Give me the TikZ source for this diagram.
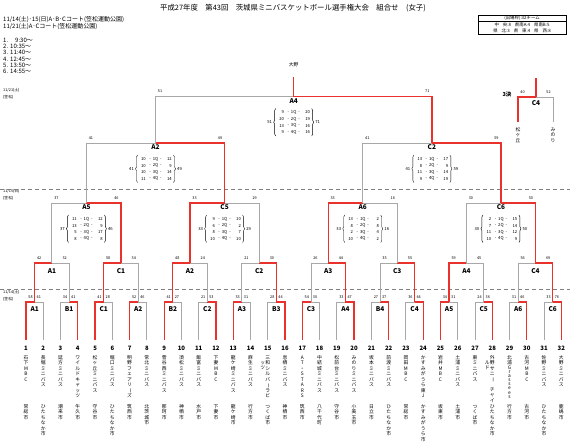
\documentclass[tikz,border=0pt]{standalone}
\usepackage{fontspec}
\setmainfont{Noto Sans CJK JP}
\usetikzlibrary{decorations.pathreplacing,calc}
\definecolor{wred}{HTML}{E8322B}
\definecolor{lgray}{HTML}{A8A8A8}
\def\vtloop#1{\ifx\relax#1\else\hbox to 6pt{\hss\raisebox{0pt}[4.2pt][1.3pt]{#1}\hss}\expandafter\vtloop\fi}
\newcommand\vtext[1]{\vbox{\offinterlineskip\expandafter\vtloop#1\relax}}
\def\vtloopS#1{\ifx\relax#1\else\hbox to 6pt{\hss\raisebox{0pt}[3.2pt][0.9pt]{#1}\hss}\expandafter\vtloopS\fi}
\newcommand\vtextS[1]{\vbox{\offinterlineskip\expandafter\vtloopS#1\relax}}
\newcommand\vbar{\rotatebox[origin=c]{-90}{ー}}
\newcommand\qbox[4]{%
  \foreach \l/\r [count=\i] in {#4}{%
    \node[qs,anchor=east] at ($(#1)+(-9.5,{16+(\i-1)*6.6})$) {\l};
    \node[qs] at ($(#1)+(0,{16+(\i-1)*6.6})$) {-\hspace{2pt}\i Q\hspace{2pt}-};
    \node[qs,anchor=east] at ($(#1)+(16.5,{16+(\i-1)*6.6})$) {\r};
  }
  \draw[decorate,decoration={brace,amplitude=2pt},line width=0.4pt] ($(#1)+(-18,39.5)$) -- ($(#1)+(-18,12)$);
  \draw[decorate,decoration={brace,amplitude=2pt},line width=0.4pt] ($(#1)+(18,12)$) -- ($(#1)+(18,39.5)$);
  \node[qs] at ($(#1)+(-24,25.9)$) {#2};
  \node[qs] at ($(#1)+(24,25.9)$) {#3};
}
\begin{document}
\begin{tikzpicture}[x=1pt,y=-1pt,
 gl/.style={draw=lgray,line width=0.9pt},
 rl/.style={draw=wred,line width=1.3pt},
 sc/.style={font=\fontsize{3.8}{4}\selectfont,inner sep=0},
 qs/.style={font=\fontsize{4.2}{5}\selectfont,inner sep=0},
 lab/.style={font=\bfseries\fontsize{6.5}{7}\selectfont,inner sep=0},
 num/.style={font=\bfseries\fontsize{6}{7}\selectfont,inner sep=0},
 tn/.style={font=\fontsize{4.8}{5}\selectfont,inner sep=0,anchor=north},
 txt/.style={inner sep=0,anchor=west,font=\fontsize{6}{6}\selectfont},
 dsh/.style={draw=gray,line width=0.7pt,dash pattern=on 4pt off 3pt}]
\useasboundingbox (0,0) rectangle (570,442);
\fill[white] (0,0) rectangle (570,442);
% header
\node[inner sep=0,font=\fontsize{7.4}{8}\selectfont] (title) at (293,8) {平成27年度　第43回　茨城県ミニバスケットボール選手権大会　組合せ　(女子)};
\node[txt] (h1) at (3,20) {11/14(土)･15(日)A･B･Cコート(笠松運動公園)};
\node[txt] (h2) at (3,26.5) {11/21(土)A･Cコート(笠松運動公園)};
\foreach \t [count=\i] in {1.\hspace{7pt}9:30～,2.\hspace{2pt}10:35～,3.\hspace{2pt}11:40～,4.\hspace{2pt}12:45～,5.\hspace{2pt}13:50～,6.\hspace{2pt}14:55～}
  \node[txt] (tm\i) at (3,{40+(\i-1)*6.35}) {\t};
\node[txt,font=\fontsize{3.8}{4}\selectfont] (d1) at (3,90.5) {11/21(土)};
\node[txt,font=\fontsize{3.8}{4}\selectfont] (d1b) at (3,97) {(笠松)};
\node[txt,font=\fontsize{3.8}{4}\selectfont] (d2) at (3,191.5) {11/15(日)};
\node[txt,font=\fontsize{3.8}{4}\selectfont] (d2b) at (3,198) {(笠松)};
\node[txt,font=\fontsize{3.8}{4}\selectfont] (d3) at (3,292.5) {11/14(土)};
\node[txt,font=\fontsize{3.8}{4}\selectfont] (d3b) at (3,299) {(笠松)};
% quota box
\draw[line width=0.5pt] (478,15) rectangle (566,34);
\draw[line width=0.4pt] (478,21) -- (566,21);
\node[inner sep=0,font=\fontsize{4.4}{5}\selectfont] (qb1) at (522,18) {(出場枠):32チーム};
\node[inner sep=0,font=\fontsize{4.4}{5}\selectfont] (qb2) at (522,24.5) {中\hspace{4pt}央:8\hspace{4pt}県南A:4\hspace{4pt}県南B:5};
\node[inner sep=0,font=\fontsize{4.4}{5}\selectfont] (qb3) at (522,30.5) {県\hspace{4pt}北:3\hspace{4pt}県\hspace{4pt}東:4\hspace{4pt}県\hspace{4pt}西:8};
% separators
\draw[dsh] (0,189) -- (570,189);
\draw[dsh] (0,289) -- (570,289);
% coordinates
\foreach \k in {1,...,32} \coordinate (t\k) at ({26+(\k-1)*17.27},340);
\foreach \j in {1,...,16} \coordinate (m\j) at ({26+(2*\j-1.5)*17.27},302);
\foreach \j in {1,...,8} \coordinate (r\j) at ({26+(4*\j-2.5)*17.27},263);
\foreach \j in {1,...,4} \coordinate (q\j) at ({26+(8*\j-4.5)*17.27},203);
\foreach \j in {1,2} \coordinate (s\j) at ({26+(16*\j-8.5)*17.27},143);
\coordinate (f) at ({26+15.5*17.27},96.5);
\coordinate (champ) at ({26+15.5*17.27},77);
% round 1
\foreach \j/\lab/\ls/\rs [evaluate=\j as \a using int(2*\j-1), evaluate=\j as \b using int(2*\j)] in
 {1/A1/58/41,2/B1/34/41,3/C1/41/28,4/A2/52/46,5/B2/41/27,6/C2/21/53,7/A3/33/31,8/B3/28/44,
  9/C3/54/30,10/A4/33/47,11/B4/27/37,12/C4/36/44,13/A5/34/31,14/C5/24/36,15/A6/31/46,16/C6/33/76}{
  \draw[gl] (t\a) |- (m\j) (t\b) |- (m\j);
  \node[sc] at ($(t\a |- m\j)+(4.5,-5)$) {\ls};
  \node[sc] at ($(t\b |- m\j)+(-4.5,-5)$) {\rs};
  \node[lab] at ($(m\j)+(0,7.5)$) {\lab};
}
\foreach \w/\m in {1/1,4/2,5/3,7/4,9/5,12/6,13/7,16/8,17/9,20/10,22/11,24/12,25/13,28/14,30/15,32/16}
  \draw[rl] (t\w) |- (m\m);
% round 2
\foreach \j/\lab/\ls/\rs [evaluate=\j as \a using int(2*\j-1), evaluate=\j as \b using int(2*\j)] in
 {1/A1/42/32,2/C1/58/34,3/A2/48/24,4/C2/21/30,5/A3/26/44,6/C3/35/55,7/A4/59/45,8/C4/56/69}{
  \draw[gl] (m\a) |- (r\j) (m\b) |- (r\j);
  \node[sc] at ($(m\a |- r\j)+(4.5,-5)$) {\ls};
  \node[sc] at ($(m\b |- r\j)+(-4.5,-5)$) {\rs};
  \node[lab] at ($(r\j)+(0,8.5)$) {\lab};
}
\foreach \w/\m in {1/1,3/2,5/3,8/4,10/5,12/6,13/7,16/8}
  \draw[rl] (m\w) |- (r\m);
% round 3
\foreach \j/\lab/\ls/\rs [evaluate=\j as \a using int(2*\j-1), evaluate=\j as \b using int(2*\j)] in
 {1/A5/37/46,2/C5/33/29,3/A6/33/16,4/C6/30/50}{
  \draw[gl] (r\a) |- (q\j) (r\b) |- (q\j);
  \node[sc] at ($(r\a |- q\j)+(4.5,-5)$) {\ls};
  \node[sc] at ($(r\b |- q\j)+(-4.5,-5)$) {\rs};
  \node[lab] at ($(q\j)+(0,4.5)$) {\lab};
}
\foreach \w/\m in {2/1,3/2,5/3,8/4}
  \draw[rl] (r\w) |- (q\m);
% semis
\foreach \j/\lab/\ls/\rs [evaluate=\j as \a using int(2*\j-1), evaluate=\j as \b using int(2*\j)] in
 {1/A2/41/49,2/C2/41/59}{
  \draw[gl] (q\a) |- (s\j) (q\b) |- (s\j);
  \node[sc] at ($(q\a |- s\j)+(4.5,-5)$) {\ls};
  \node[sc] at ($(q\b |- s\j)+(-4.5,-5)$) {\rs};
  \node[lab] at ($(s\j)+(0,4)$) {\lab};
}
\draw[rl] (q2) |- (s1);
\draw[rl] (q4) |- (s2);
% final
\draw[gl] (s1) |- (f);
\draw[rl] (s2) |- (f);
\draw[rl] (f) -- (champ);
\node[sc] at ($(s1 |- f)+(4.5,-5)$) {51};
\node[sc] at ($(s2 |- f)+(-4.5,-5)$) {71};
\node[lab] at ($(f)+(0,5)$) {A4};
\node[inner sep=0,font=\fontsize{4.8}{5}\selectfont] (champname) at ($(champ)+(0,-12)$) {大野};
% quarter boxes
\qbox{f}{51}{71}{9/20,20/19,13/16,9/16}
\qbox{s1}{41}{49}{10/12,10/9,10/14,11/14}
\qbox{s2}{41}{59}{13/17,8/9,11/14,9/19}
\qbox{q1}{37}{46}{11/12,13/9,5/17,8/8}
\qbox{q2}{33}{29}{9/10,6/2,8/7,10/10}
\qbox{q3}{33}{16}{13/2,8/8,2/4,10/2}
\qbox{q4}{30}{50}{2/15,7/14,11/12,10/9}
% third place
\coordinate (c3) at (536,97);
\coordinate (c3l) at (518,122);
\coordinate (c3r) at (553,122);
\coordinate (c3top) at (536,78);
\draw[gl] (c3r) |- (c3);
\draw[rl] (c3l) |- (c3);
\draw[rl] (c3) -- (c3top);
\node[sc] at ($(c3l |- c3)+(4.5,-5)$) {40};
\node[sc] at ($(c3r |- c3)+(-4.5,-5)$) {52};
\node[lab] at ($(c3)+(0,6)$) {C4};
\node[inner sep=0,font=\bfseries\fontsize{5.5}{6}\selectfont] (thirdlab) at (507,94) {3決};
\node[tn] (tl) at ($(c3l)+(0,5)$) {\vtext{松ヶ丘}};
\node[tn] (tr) at ($(c3r)+(0,5)$) {\vtext{みのり}};
% teams
\foreach \k/\nm/\loc in {1/石下MBC/常総市,2/長堀ミニバス/ひたちなか市,3/延方ミニバス/潮来市,4/ワイルドキャッツ/牛久市,
 5/松ヶ丘ミニバス/守谷市,6/堀口ミニバス/ひたちなか市,7/明野フェアリ{\vbar}ズ/筑西市,8/常北ミニバス/北茨城市,
 9/菅谷西ミニバス/那珂市,10/須松ミニバス/神栖市,11/飯富ミニバス/水戸市,12/下妻MBC/下妻市,
 13/龍ケ崎ミニバス/龍ケ崎市,14/麻生ミニバス/行方市,16/息栖ミニバス/神栖市,
 17/AT・STARS/筑西市,18/中結城ミニバス/八千代町,19/松前台ミニバス/守谷市,20/みのりミニバス/小美玉市,
 21/坂本ミニバス/日立市,22/前渡ミニバス/ひたちなか市,23/岡田MBC/常総市,24/かすみがうら東J/かすみがうら市,
 25/岩井MBC/坂東市,26/土浦ミニバス/土浦市,27/東ミニバス/つくば市,
 30/古河MBC/古河市,31/佐野ミニバス/ひたちなか市,32/大野ミニバス/鹿嶋市}{
  \node[tn] (nm\k) at ($(t\k)+(0,15)$) {\vtext{\nm}};
  \node[tn] (lc\k) at ($(t\k)+(0,64)$) {\vtext{\loc}};
}
\node[tn] (nm15) at ($(t15)+(0,15)$) {\vtext{三和シルバ{\vbar}ラビ}};
\node[tn] (nm15b) at ($(t15)+(-5,20)$) {\vtext{ッツ}};
\node[tn] (lc15) at ($(t15)+(0,64)$) {\vtext{つくば市}};
\node[tn] (nm28) at ($(t28)+(0,15)$) {\vtext{外野サニ{\vbar}}};
\node[tn] (nm28b) at ($(t28)+(-5,20)$) {\vtext{ルド}};
\node[tn] (nm28c) at ($(t28)+(0,47)$) {\vtext{チャイ}};
\node[tn] (lc28) at ($(t28)+(0,64)$) {\vtext{ひたちなか市}};
\node[tn] (nm29) at ($(t29)+(0,15)$) {\vbox{\offinterlineskip\vtext{北浦}\vtextS{Grassees}}};
\node[tn] (lc29) at ($(t29)+(0,64)$) {\vtext{行方市}};
\foreach \k in {1,...,32} \node[num] (n\k) at ($(t\k)+(0,8)$) {\k};
\end{tikzpicture}
\end{document}
